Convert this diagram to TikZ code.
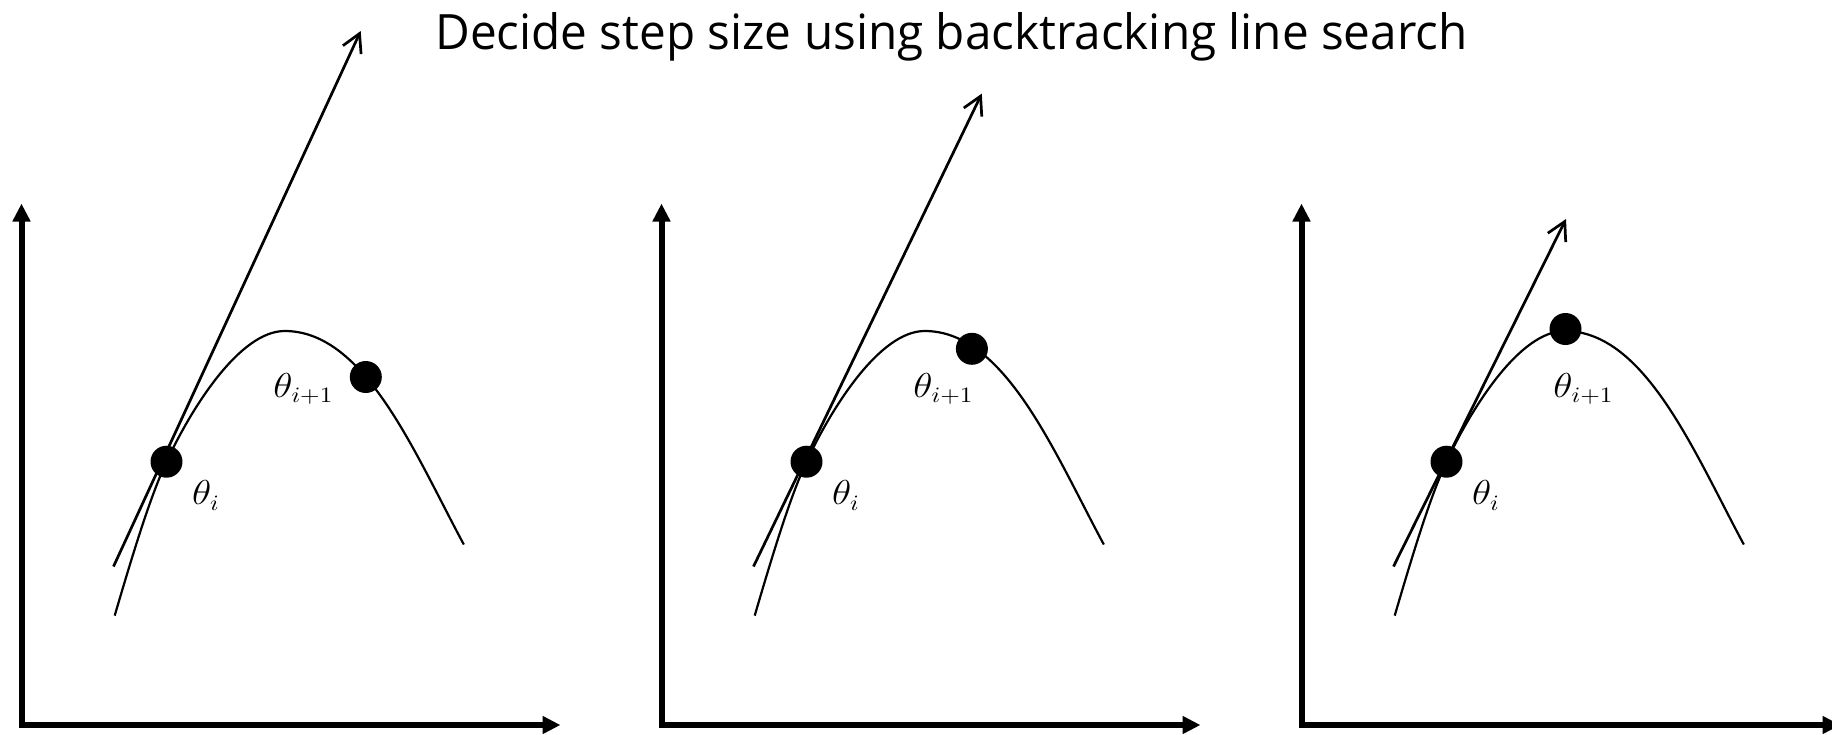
\documentclass[tikz,border=0pt]{standalone}
\usepackage{fontspec}
\setmainfont{Open Sans}
\usetikzlibrary{arrows.meta}
\tikzset{
  axis/.style={line width=3pt, line join=miter, {Triangle[length=9pt,width=8.5pt]}-{Triangle[length=9pt,width=8.5pt]}},
  fcurve/.style={line width=1.1pt},
  tangent/.style={line width=1.35pt, -{Straight Barb[length=9pt,width=10pt,line width=1.35pt]}},
  dotnode/.style={circle, fill=black, inner sep=0pt, minimum size=16pt},
  lbl/.style={inner sep=0pt, font=\fontsize{16}{19}\selectfont},
  title/.style={inner sep=0pt, anchor=base west}
}
\begin{document}
\begin{tikzpicture}[x=0.5pt,y=-0.5pt]
\useasboundingbox (0,0) rectangle (1832,734);
\node[title] (ttl) at (435,49) {\resizebox{516pt}{18.5pt}{Decide step size using backtracking line search}};
\foreach \k/\tx/\ty/\nx/\ny in {0/360.7/31/365.8/377, 1/341.8/93.6/331.9/348.8, 2/286/219/285.5/329}{
  \begin{scope}[shift={(\k*640,0)}]
    \coordinate (ytip\k) at (21.5,203.5);
    \coordinate (orig\k) at (21.5,725);
    \coordinate (xtip\k) at (560.5,725);
    \draw[axis] (ytip\k) -- (orig\k) -- (xtip\k);
    \coordinate (S\k) at (114.7,615.6);
    \coordinate (D\k) at (166.5,461.7);
    \coordinate (P\k) at (284.7,331);
    \coordinate (E\k) at (463.8,544.5);
    \draw[fcurve] (S\k) .. controls (131.7,557.8) and (149.5,498.25) .. (D\k)
       .. controls (191.5,407.95) and (239.7,331) .. (P\k)
       .. controls (364.7,331) and (413.8,451.5) .. (E\k);
    \coordinate (ts\k) at (113.5,566.5);
    \coordinate (tt\k) at (\tx,\ty);
    \draw[tangent] (ts\k) -- (tt\k);
    \node[dotnode] (th\k) at (D\k) {};
    \node[dotnode] (tn\k) at (\nx,\ny) {};
    \node[lbl] (lth\k) at (206,495.5) {\scalebox{1.15}[1]{$\theta_i$}};
    \node[lbl] (ltn\k) at (303.5,389) {\scalebox{1.15}[1]{$\theta_{i+1}$}};
  \end{scope}
}
\end{tikzpicture}
\end{document}
